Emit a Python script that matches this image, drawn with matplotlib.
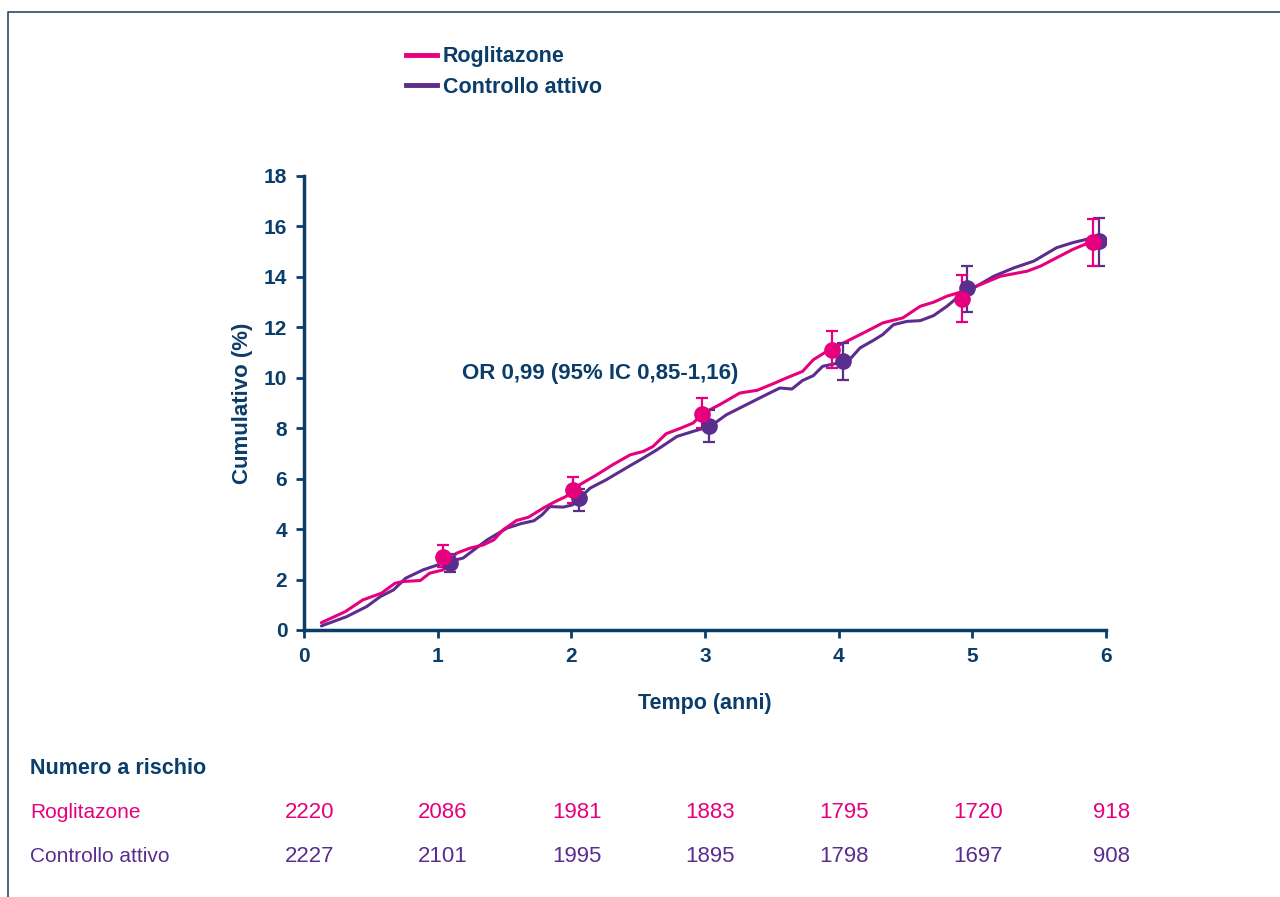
import matplotlib
matplotlib.use("Agg")
import matplotlib.pyplot as plt
from matplotlib.lines import Line2D
from matplotlib import font_manager

# colours
navy = '#0b3d6b'
pink = '#e6007e'
purple = '#5b2d8e'

names = [f.name for f in font_manager.fontManager.ttflist]
narrow = 'Liberation Sans Narrow' if 'Liberation Sans Narrow' in names else 'Liberation Sans'
plt.rcParams['font.family'] = [narrow, 'DejaVu Sans']

# cumulative curves
rog_x = [0.13, 0.31, 0.44, 0.58, 0.68, 0.74, 0.87, 0.94, 1.04, 1.14, 1.24, 1.34, 1.42, 1.49,
         1.59, 1.68, 1.79, 1.88, 1.96, 2.06, 2.19, 2.31, 2.44, 2.54, 2.61, 2.71, 2.81, 2.91,
         2.99, 3.11, 3.26, 3.39, 3.51, 3.61, 3.73, 3.81, 3.91, 4.06, 4.21, 4.33, 4.48, 4.61,
         4.71, 4.81, 4.93, 5.06, 5.21, 5.41, 5.51, 5.63, 5.75, 5.9]
rog_y = [0.29, 0.73, 1.19, 1.46, 1.85, 1.92, 1.96, 2.25, 2.38, 3.04, 3.24, 3.37, 3.57, 3.97,
         4.34, 4.47, 4.83, 5.09, 5.29, 5.75, 6.15, 6.55, 6.94, 7.08, 7.27, 7.78, 7.98, 8.2,
         8.6, 8.93, 9.39, 9.5, 9.76, 9.99, 10.25, 10.71, 11.04, 11.44, 11.84, 12.17, 12.37, 12.83,
         12.99, 13.23, 13.42, 13.69, 14.02, 14.22, 14.42, 14.75, 15.08, 15.41]

ctl_x = [0.13, 0.32, 0.47, 0.57, 0.67, 0.76, 0.89, 1.04, 1.19, 1.27, 1.37, 1.52, 1.62, 1.72,
         1.78, 1.84, 1.94, 2.01, 2.14, 2.26, 2.41, 2.54, 2.64, 2.79, 2.91, 3.04, 3.16, 3.31,
         3.46, 3.56, 3.65, 3.73, 3.81, 3.88, 3.98, 4.08, 4.16, 4.26, 4.33, 4.41, 4.51, 4.61,
         4.71, 4.81, 4.93, 5.03, 5.16, 5.31, 5.46, 5.63, 5.75, 5.93]
ctl_y = [0.16, 0.53, 0.93, 1.32, 1.59, 2.05, 2.38, 2.65, 2.85, 3.17, 3.57, 4.04, 4.21, 4.33,
         4.56, 4.89, 4.87, 4.96, 5.62, 5.95, 6.42, 6.82, 7.14, 7.67, 7.87, 8.07, 8.53, 8.93,
         9.33, 9.59, 9.55, 9.89, 10.08, 10.45, 10.56, 10.71, 11.18, 11.48, 11.71, 12.1, 12.23, 12.26,
         12.46, 12.83, 13.36, 13.62, 14.02, 14.35, 14.62, 15.15, 15.35, 15.58]

# yearly estimates with 95% CI
rog_pt_x = [1.04, 2.01, 2.98, 3.95, 4.92, 5.9]
rog_pt_y = [2.91, 5.56, 8.57, 11.11, 13.12, 15.37]
rog_hi = [3.35, 6.08, 9.19, 11.84, 14.05, 16.27]
rog_lo = [2.5, 5.05, 8.0, 10.38, 12.2, 14.42]

ctl_pt_x = [1.09, 2.06, 3.03, 4.03, 4.96, 5.95]
ctl_pt_y = [2.65, 5.23, 8.07, 10.67, 13.56, 15.41]
ctl_hi = [3.0, 5.6, 8.7, 11.38, 14.44, 16.31]
ctl_lo = [2.28, 4.73, 7.43, 9.92, 12.59, 14.44]

# numbers at risk
years = [0, 1, 2, 3, 4, 5, 6]
rog_risk = [2220, 2086, 1981, 1883, 1795, 1720, 918]
ctl_risk = [2227, 2101, 1995, 1895, 1798, 1697, 908]

fig = plt.figure(figsize=(12.8, 8.97), dpi=100)
ax = fig.add_axes([0.2375, 0.2977, 0.6266, 0.5063])

ax.plot(ctl_x, ctl_y, color=purple, lw=2.2, solid_capstyle='round')
ax.plot(rog_x, rog_y, color=pink, lw=2.2, solid_capstyle='round')

for px, py, hi, lo, c in [(ctl_pt_x, ctl_pt_y, ctl_hi, ctl_lo, purple),
                           (rog_pt_x, rog_pt_y, rog_hi, rog_lo, pink)]:
    yerr = [[y - l for y, l in zip(py, lo)], [h - y for y, h in zip(py, hi)]]
    ax.errorbar(px, py, yerr=yerr, fmt='o', color=c, ms=11, elinewidth=1.6,
                capsize=4, capthick=1.6, zorder=3)

ax.set_xlim(0, 6)
ax.set_ylim(0, 18)
ax.set_xticks(range(0, 7))
ax.set_yticks(range(0, 19, 2))
for s in ['top', 'right']:
    ax.spines[s].set_visible(False)
for s in ['left', 'bottom']:
    ax.spines[s].set_color(navy)
    ax.spines[s].set_linewidth(2.5)
ax.tick_params(colors=navy, width=2, length=6, labelsize=15, pad=6)
for lab in ax.get_xticklabels() + ax.get_yticklabels():
    lab.set_fontweight('bold')
ax.set_xlabel('Tempo (anni)', color=navy, fontsize=15.5, fontweight='bold', labelpad=20)
ax.set_ylabel('Cumulativo (%)', color=navy, fontsize=16, fontweight='bold')
ax.yaxis.set_label_coords(-0.064, 0.5)

ax.text(1.18, 10.16, 'OR 0,99 (95% IC 0,85-1,16)', color=navy, fontsize=16,
        fontweight='bold', va='center', ha='left')

# legend
handles = [Line2D([], [], color=pink, lw=3.5), Line2D([], [], color=purple, lw=3.5)]
leg = fig.legend(handles, ['Roglitazone', 'Controllo attivo'], loc='upper left',
                 bbox_to_anchor=(0.302, 0.97), frameon=False, handlelength=1.45,
                 handletextpad=0.25, labelspacing=0.45, prop={'size': 15.5, 'weight': 'bold'})
for t in leg.get_texts():
    t.set_color(navy)

# numbers at risk table
tr = ax.get_xaxis_transform()
fig.text(30 / 1280, 1 - 768 / 897, 'Numero a rischio', color=navy, fontsize=15.5,
         fontweight='bold', va='center')
fig.text(30 / 1280, 1 - 812 / 897, 'Roglitazone', color=pink, fontsize=15, va='center')
fig.text(30 / 1280, 1 - 856 / 897, 'Controllo attivo', color=purple, fontsize=15, va='center')
y_r = (1 - 812 / 897 - 0.2977) / 0.5063
y_c = (1 - 856 / 897 - 0.2977) / 0.5063
for x, a, b in zip(years, rog_risk, ctl_risk):
    ax.text(x + 0.04, y_r, str(a), transform=tr, color=pink, fontsize=16, ha='center',
            va='center', clip_on=False)
    ax.text(x + 0.04, y_c, str(b), transform=tr, color=purple, fontsize=16, ha='center',
            va='center', clip_on=False)

# outer frame
fx = 8 / 1280
fy = 1 - 12 / 897
fig.add_artist(Line2D([fx, fx, 1.0], [0.0, fy, fy], color='#2b4a6b', lw=1.2))

fig.savefig('out.png', dpi=100)
